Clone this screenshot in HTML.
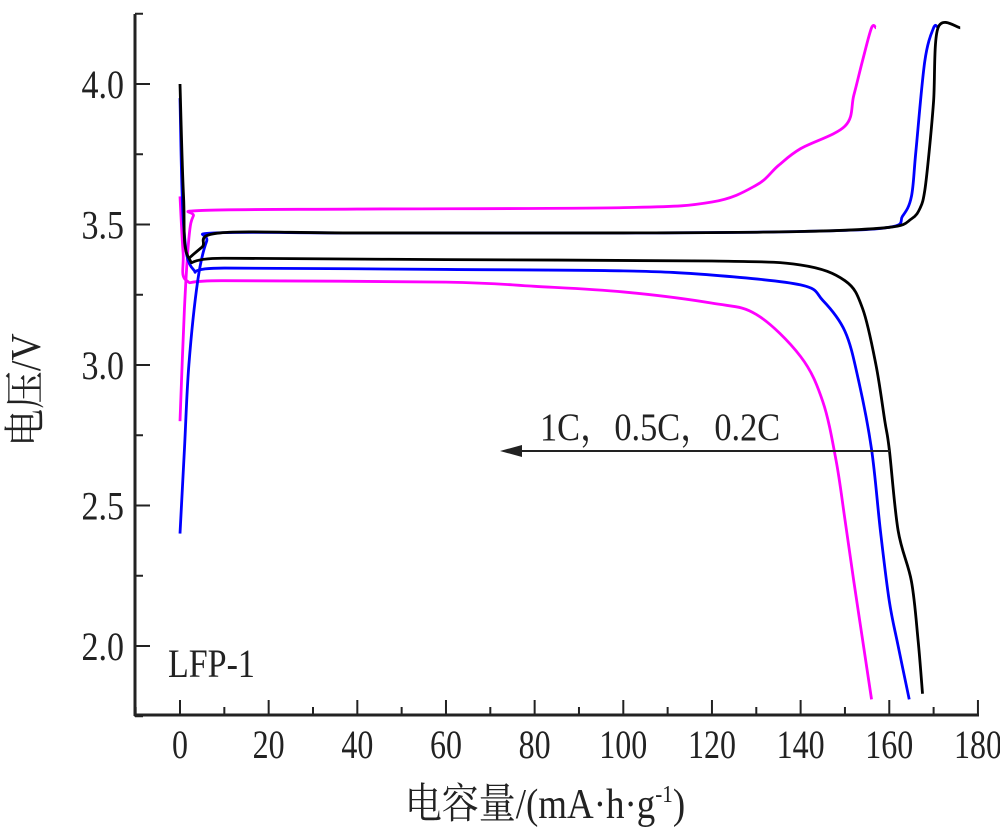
<!DOCTYPE html>
<html><head><meta charset="utf-8"><style>
body{margin:0;background:#fff}
svg text{font-family:"Liberation Serif","Noto Serif CJK SC",serif;fill:#222}
</style></head><body>
<svg id="c" width="1000" height="833" viewBox="0 0 1000 833" xmlns="http://www.w3.org/2000/svg">
<g id="axes"></g>
<g id="series"></g>
<text transform="translate(168,677) scale(0.85,1)" font-size="40">LFP-1</text>
<line x1="890" y1="451" x2="510" y2="451" stroke="#222" stroke-width="2"/>
<polygon points="500,451 522,445 522,457" fill="#222"/>
<text transform="translate(540,440) scale(0.88,1)" font-size="39">1C，0.5C，0.2C</text>
<text transform="translate(545,818) scale(0.88,1)" font-size="42" text-anchor="middle">电容量/(mA·h·g<tspan font-size="24" dy="-16">-1</tspan><tspan dy="16">)</tspan></text>
<text transform="translate(40,390) rotate(-90) scale(0.9,1)" font-size="42" text-anchor="middle">电压/V</text>
</svg>
<script>
const xTicks=[0,20,40,60,80,100,120,140,160,180];
const yTicks=[2.0,2.5,3.0,3.5,4.0];
const yTickLabels=["2.0","2.5","3.0","3.5","4.0"];
const blackChargeX=[2,5,9,40,100,140,160,165,167,168,169,170,171,176];
const blackChargeY=[3.38,3.42,3.47,3.47,3.47,3.475,3.49,3.52,3.56,3.62,3.76,3.94,4.2,4.2];
const blackDisX=[0,0.8,2,10,60,120,140,150,154,157,159,160,162,165,166.5,167.5];
const blackDisY=[4.0,3.6,3.38,3.38,3.375,3.37,3.356,3.3,3.2,3.0,2.8,2.7,2.41,2.23,2.02,1.83];
const blueChargeX=[0,1,2,4,6,8,40,100,140,160,163,165,166,168,170,171];
const blueChargeY=[2.4,2.7,3.0,3.3,3.44,3.47,3.47,3.47,3.475,3.49,3.53,3.6,3.76,4.08,4.2,4.2];
const blueDisX=[0,0.8,3,10,60,100,120,140,145,150,153,156,158,160,162,164.5];
const blueDisY=[3.95,3.5,3.34,3.345,3.34,3.335,3.32,3.285,3.23,3.12,2.95,2.7,2.41,2.16,2.0,1.81];
const magChargeX=[0,1,2,3,5,40,100,120,130,135,140,150,152,154,156,157];
const magChargeY=[2.8,3.2,3.45,3.53,3.55,3.555,3.56,3.58,3.64,3.71,3.77,3.85,3.96,4.085,4.2,4.2];
const magDisX=[0,0.7,1.5,10,60,80,100,120,130,140,145,148,150,152,154,156];
const magDisY=[3.6,3.4,3.3,3.3,3.295,3.28,3.26,3.22,3.18,3.03,2.87,2.66,2.45,2.23,2.02,1.81];
const NS="http://www.w3.org/2000/svg";
const X=v=>180+v*4.433, Y=v=>84+(4.0-v)*281;
const ax=document.getElementById('axes'), se=document.getElementById('series');
function mk(t,a,p){const e=document.createElementNS(NS,t);for(const k in a)e.setAttribute(k,a[k]);p.appendChild(e);return e;}
let l=mk('line',{x1:135,y1:14,x2:135,y2:716,stroke:'#222','stroke-width':3},ax);


l=mk('line',{x1:134,y1:715,x2:979,y2:715,stroke:'#222','stroke-width':3},ax);


for(let v=-10;v<=180;v+=10){const maj=v%20===0;const t=mk('line',{x1:X(v),y1:715,x2:X(v),y2:maj?700:707,stroke:'#222','stroke-width':2},ax);

}
xTicks.forEach(v=>{const t=mk('text',{transform:`translate(${X(v)},758) scale(0.8,1)`,'font-size':40,'text-anchor':'middle'},ax);t.textContent=v;

});
for(let v=1.75;v<=4.26;v+=0.25){const maj=Math.abs(v*2-Math.round(v*2))<0.01;const t=mk('line',{x1:135,y1:Y(v),x2:maj?150:143,y2:Y(v),stroke:'#222','stroke-width':2},ax);

}
yTicks.forEach((v,i)=>{const t=mk('text',{transform:`translate(124,${Y(v)+14}) scale(0.85,1)`,'font-size':40,'text-anchor':'end'},ax);t.textContent=yTickLabels[i];

});
function line(xs,ys,c,name){
  const P=xs.map((x,i)=>[X(x),Y(ys[i])]);
  let d='M'+P[0][0]+','+P[0][1];
  for(let i=0;i<P.length-1;i++){
    const p0=P[i-1]||P[i],p1=P[i],p2=P[i+1],p3=P[i+2]||p2;
    const c1=[p1[0]+(p2[0]-p0[0])/6,p1[1]+(p2[1]-p0[1])/6];
    const c2=[p2[0]-(p3[0]-p1[0])/6,p2[1]-(p3[1]-p1[1])/6];
    d+=` C${c1[0]},${c1[1]} ${c2[0]},${c2[1]} ${p2[0]},${p2[1]}`;
  }
  const p=mk('path',{d:d,fill:'none',stroke:c,'stroke-width':2.8,'stroke-linejoin':'round'},se);
  
  }
line(magChargeX,magChargeY,'#ff00ff','charge-1c');
line(magDisX,magDisY,'#ff00ff','discharge-1c');
line(blueChargeX,blueChargeY,'#0000ff','charge-0.5c');
line(blueDisX,blueDisY,'#0000ff','discharge-0.5c');
line(blackChargeX,blackChargeY,'#000','charge-0.2c');
line(blackDisX,blackDisY,'#000','discharge-0.2c');
</script>
</body></html>
